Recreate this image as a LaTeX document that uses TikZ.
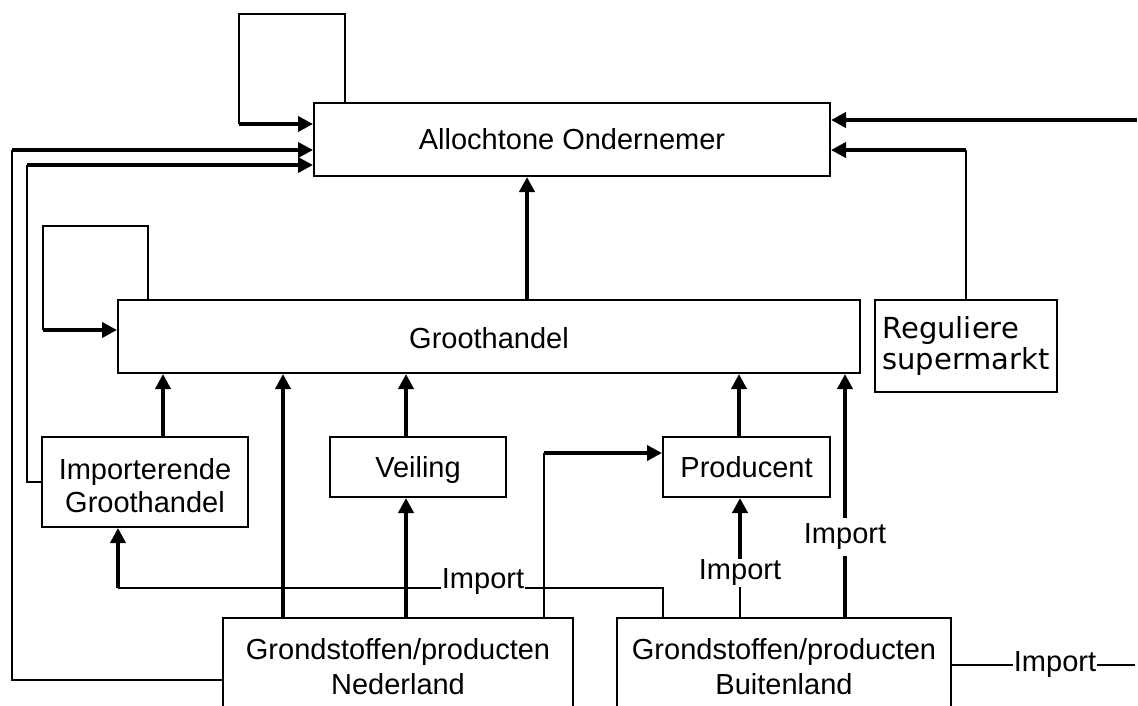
\documentclass[tikz,border=0pt]{standalone}
\usepackage{fontspec}
\setmainfont{Liberation Sans}
\newfontfamily\dejavu{DejaVu Sans}
\usetikzlibrary{arrows.meta}
\begin{document}
\begin{tikzpicture}[x=1pt,y=-1pt,
  every node/.style={font=\fontsize{29}{33}\selectfont},
  box/.style={draw, line width=2pt, inner sep=0pt, align=center, fill=white},
  wire/.style={line width=2.2pt},
  arr/.style={line width=4pt, -{Triangle[length=15pt,width=15pt]}},
  lbl/.style={inner sep=1pt}
]
\useasboundingbox (0,0) rectangle (1138,705);
\clip (0,0) rectangle (1138,705);

% boxes
\node[box, minimum width=516pt, minimum height=73pt] (ao) at (572,139.5) {Allochtone Ondernemer};
\node[box, minimum width=742pt, minimum height=73pt] (gh) at (489,336.5) {\rule{0pt}{25pt}Groothandel};
\node[box, minimum width=182pt, minimum height=92pt, align=left,
      font=\dejavu\fontsize{29}{31}\selectfont] (rs) at (966,346) {Reguliere\\supermarkt};
\node[box, minimum width=206pt, minimum height=90pt] (ig) at (145,482) {\rule{0pt}{29pt}Importerende\\Groothandel};
\node[box, minimum width=176pt, minimum height=60pt, text depth=0pt] (vl) at (418,467) {Veiling};
\node[box, minimum width=167pt, minimum height=60pt] (pr) at (746.5,467) {Producent};
\node[box, minimum width=350pt, minimum height=98pt, font=\fontsize{29}{35}\selectfont]
      (nl) at (398,667) {Grondstoffen/producten\\Nederland};
\node[box, minimum width=334pt, minimum height=98pt, font=\fontsize{29}{35}\selectfont]
      (bl) at (784,667) {Grondstoffen/producten\\Buitenland};

% bend points
\coordinate (a1) at (345,14);  \coordinate (a2) at (239,14);  \coordinate (a3) at (239,124);
\coordinate (b1) at (12,680);  \coordinate (b2) at (12,150);
\coordinate (c1) at (27,482);  \coordinate (c2) at (27,165);
\coordinate (d1) at (1137,120);
\coordinate (e1) at (966,150);
\coordinate (f1) at (148,226); \coordinate (f2) at (43,226);  \coordinate (f3) at (43,330);
\coordinate (g1) at (544,453);
\coordinate (h1) at (663,588); \coordinate (h2) at (118,588);
\coordinate (k1) at (1135,665);

% self loop on Allochtone Ondernemer
\draw[wire] (a1 |- ao.north) -- (a1) -- (a2) -- (a3);
\draw[arr] (a3) -- (a3 -| ao.west);

% left feeds into Allochtone Ondernemer
\draw[wire] (nl.west |- b1) -- (b1) -- (b2);
\draw[arr] (b2) -- (b2 -| ao.west);
\draw[wire] (ig.west) -- (c1) -- (c2);
\draw[arr] (c2) -- (c2 -| ao.west);

% right feeds into Allochtone Ondernemer
\draw[arr] (d1) -- (d1 -| ao.east);
\draw[wire] (rs.north) -- (e1);
\draw[arr] (e1) -- (e1 -| ao.east);

% Groothandel to Allochtone Ondernemer
\draw[arr] (527,0 |- gh.north) -- (527,0 |- ao.south);

% self loop on Groothandel
\draw[wire] (f1 |- gh.north) -- (f1) -- (f2) -- (f3);
\draw[arr] (f3) -- (f3 -| gh.west);

% into Groothandel from below
\draw[arr] (163,0 |- ig.north) -- (163,0 |- gh.south);
\draw[arr] (283,0 |- nl.north) -- (283,0 |- gh.south);
\draw[arr] (406,0 |- vl.north) -- (406,0 |- gh.south);
\draw[arr] (739,0 |- pr.north) -- (739,0 |- gh.south);
\draw[arr] (406,0 |- nl.north) -- (406,0 |- vl.south);

% Nederland to Producent
\draw[wire] (g1 |- nl.north) -- (g1);
\draw[arr] (g1) -- (g1 -| pr.west);

% import from Buitenland to Importerende Groothandel
\node[lbl, anchor=base] (i1) at (483,588) {Import};
\draw[wire] (h1 |- bl.north) -- (h1) -- (i1.east |- h1);
\draw[wire] (i1.west |- h1) -- (h2);
\draw[arr] (h2) -- (h2 |- ig.south);

% import from Buitenland to Producent
\node[lbl] (i2) at (740,573) {Import};
\draw[wire] (740,0 |- bl.north) -- (i2.south);
\draw[arr] (i2.north) -- (740,0 |- pr.south);

% import from Buitenland to Groothandel
\node[lbl, inner sep=6pt] (i3) at (845,537) {Import};
\draw[line width=4pt] (845,0 |- bl.north) -- (i3.south);
\draw[arr] (i3.north) -- (845,0 |- gh.south);

% import leaving to the right
\node[lbl, inner sep=1pt] (i4) at (1055,665) {Import};
\draw[wire] (bl.east |- i4) -- (i4.west);
\draw[wire] (i4.east) -- (k1);
\end{tikzpicture}
\end{document}
